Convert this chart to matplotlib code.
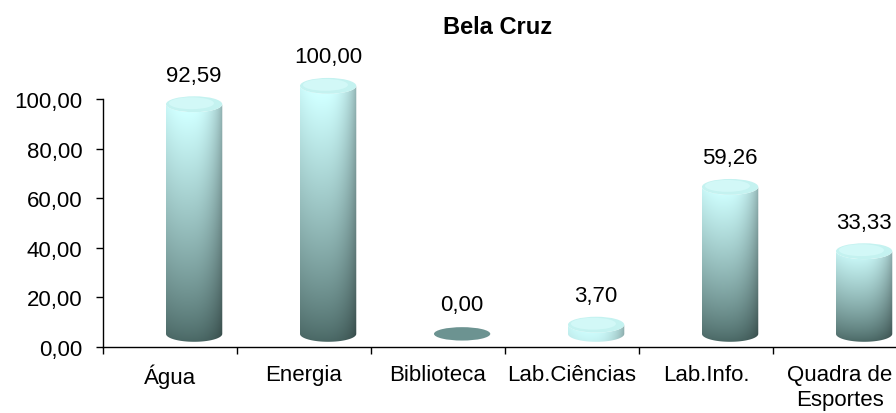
import numpy as np
import matplotlib
matplotlib.use('Agg')
from matplotlib import pyplot as plt
from matplotlib.path import Path
from matplotlib.patches import PathPatch, Ellipse

categories = ['Água', 'Energia', 'Biblioteca', 'Lab.Ciências', 'Lab.Info.', 'Quadra de\nEsportes']
values = [92.59, 100.00, 0.00, 3.70, 59.26, 33.33]
yticks = [0, 20, 40, 60, 80, 100]
title = 'Bela Cruz'

plt.rcParams['font.family'] = ['Liberation Sans', 'DejaVu Sans']

# fake 3d look: bars sit on a floor shifted right/up from the axes
X_SHIFT = 0.18
FLOOR = 5.3
WIDTH = 0.42
EH = 3.2          # half height of the end ellipses, data units

DARK = np.array([0.27, 0.38, 0.37])
LIGHT = np.array([0.80, 0.98, 0.98])


def fmt(v):
    return '{:.2f}'.format(v).replace('.', ',')


def cylinder(ax, xc, h):
    bottom = FLOOR
    top = FLOOR + h
    x0, x1 = xc - WIDTH / 2, xc + WIDTH / 2
    if h <= 0:
        e = Ellipse((xc, bottom), WIDTH, 2 * 2.7, facecolor='#6c9391',
                    edgecolor='none', clip_on=False, zorder=3)
        ax.add_patch(e)
        return
    t = np.linspace(np.pi, 2 * np.pi, 40)
    bx = xc + WIDTH / 2 * np.cos(t)
    by = bottom + EH * np.sin(t)
    tx = (xc + WIDTH / 2 * np.cos(t))[::-1]
    ty = (top + EH * np.sin(t))[::-1]
    verts = np.concatenate([[[x0, top]], np.c_[bx, by], [[x1, top]], np.c_[tx, ty]])
    body = PathPatch(Path(verts), facecolor='none', edgecolor='none', clip_on=False)
    ax.add_patch(body)

    # short bars stay light, tall ones go dark at the foot
    dark = LIGHT + (DARK - LIGHT) * min(1.0, h / 25.0)
    ny, nx = 200, 60
    v = np.linspace(1, 0, ny)[:, None]
    s = np.linspace(-1, 1, nx)[None, :]
    shade = 0.78 + 0.28 * np.sqrt(np.clip(1 - (s + 0.25) ** 2 / 1.6, 0, 1))
    shade = shade - 0.12 * np.clip(s, 0, 1) ** 2
    col = dark[None, None, :] + (LIGHT - dark)[None, None, :] * (v[..., None] ** 0.8)
    col = np.clip(col * shade[..., None], 0, 1)
    im = ax.imshow(col, extent=[x0, x1, bottom - EH, top + EH], aspect='auto',
                   origin='upper', zorder=3, interpolation='bilinear')
    im.set_clip_box(ax.figure.bbox)
    im.set_clip_path(body)

    cap = Ellipse((xc, top), WIDTH, 2 * EH, facecolor='#c4f2f0',
                  edgecolor='none', clip_on=False, zorder=4)
    ax.add_patch(cap)
    hi = Ellipse((xc - 0.02, top + 0.4), WIDTH * 0.8, 2 * EH * 0.75, facecolor='#d2f8f7',
                 edgecolor='none', clip_on=False, zorder=4)
    ax.add_patch(hi)


fig = plt.figure(figsize=(8.96, 4.14), dpi=100)
ax = fig.add_axes([103 / 896, 66 / 414, 804 / 896, 248 / 414])

x = np.arange(len(categories))
for xi, val in zip(x, values):
    cylinder(ax, xi + X_SHIFT, val)
    ax.text(xi + X_SHIFT, val + 17, fmt(val), ha='center', va='center',
            fontsize=16, clip_on=False)

ax.set_xlim(-0.5, len(categories) - 0.5)
ax.set_ylim(0, 100)
ax.set_yticks(yticks)
ax.set_yticklabels([fmt(v) for v in yticks])
ax.set_xticks(x)
ax.set_xticklabels(categories, linespacing=1.25)
ax.set_xticks(np.arange(len(categories) + 1) - 0.5, minor=True)
ax.tick_params(axis='x', which='major', length=0, labelsize=16, pad=12)
ax.tick_params(axis='x', which='minor', length=5, width=1, direction='out')
ax.tick_params(axis='y', length=5, width=1, direction='out', labelsize=16, pad=10)
for side in ['top', 'right']:
    ax.spines[side].set_visible(False)
ax.spines['left'].set_linewidth(1)
ax.spines['bottom'].set_linewidth(1)

fig.text(498 / 896, 1 - 27 / 414, title, ha='center', va='center',
         fontsize=17, fontweight='bold')

plt.savefig('out.png', dpi=100)
plt.close()
